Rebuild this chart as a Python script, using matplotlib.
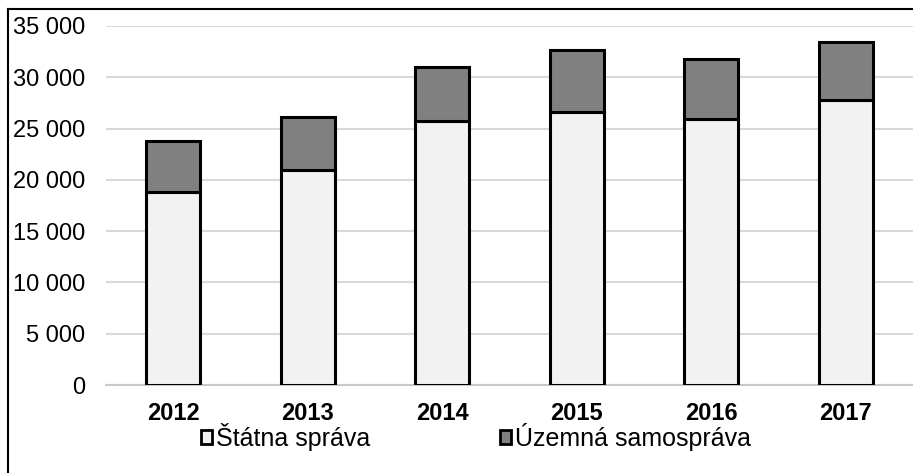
import matplotlib
matplotlib.use("Agg")
import matplotlib.pyplot as plt
from matplotlib.lines import Line2D
from matplotlib.patches import Patch
from matplotlib.ticker import FuncFormatter

years = ["2012", "2013", "2014", "2015", "2016", "2017"]
statna = [18800, 20950, 25700, 26600, 25950, 27800]
uzemna = [5000, 5150, 5300, 6050, 5800, 5600]
series_names = ["Štátna správa", "Územná samospráva"]

plt.rcParams['font.family'] = ['Liberation Sans', 'DejaVu Sans']

W, H = 913, 473
fig = plt.figure(figsize=(W / 100, H / 100), dpi=100)
ax = fig.add_axes([106 / W, 1 - 385 / H, (913 - 106) / W, (385 - 26) / H])

x = list(range(len(years)))
ax.bar(x, statna, width=0.4, color="#f2f2f2", edgecolor="black", linewidth=2.2, zorder=3)
ax.bar(x, uzemna, bottom=statna, width=0.4, color="#808080", edgecolor="black", linewidth=2.2, zorder=3)

ax.set_xlim(-0.5, 5.5)
ax.set_ylim(0, 35000)
ax.set_yticks(range(0, 35001, 5000))
ax.yaxis.set_major_formatter(FuncFormatter(lambda v, p: f"{int(v):,}".replace(",", " ")))
ax.grid(axis="y", color="#d9d9d9", linewidth=1.5, zorder=0)
for s in ["top", "right", "left"]:
    ax.spines[s].set_visible(False)
ax.spines["bottom"].set_color("#c8c8c8")
ax.spines["bottom"].set_linewidth(1.5)
ax.tick_params(axis="both", length=0, labelsize=17)
ax.tick_params(axis="y", pad=15)
ax.tick_params(axis="x", pad=12)
ax.set_xticks(x)
ax.set_xticklabels(years, fontweight="bold")

handles = [Patch(facecolor="#f2f2f2", edgecolor="black", linewidth=2),
           Patch(facecolor="#808080", edgecolor="black", linewidth=2)]
fig.legend(handles, series_names, ncol=2, loc="center", bbox_to_anchor=(476 / W, 1 - 437 / H),
           frameon=False, fontsize=18, handlelength=0.45, handleheight=0.45, handletextpad=0.15,
           columnspacing=5.2, borderpad=0)

fig.add_artist(Line2D([8 / W, 8 / W], [0, 1 - 9 / H], color="black", linewidth=1.5, transform=fig.transFigure))
fig.add_artist(Line2D([8 / W, 1], [1 - 9 / H, 1 - 9 / H], color="black", linewidth=1.5, transform=fig.transFigure))

fig.savefig("out.png", dpi=100)
